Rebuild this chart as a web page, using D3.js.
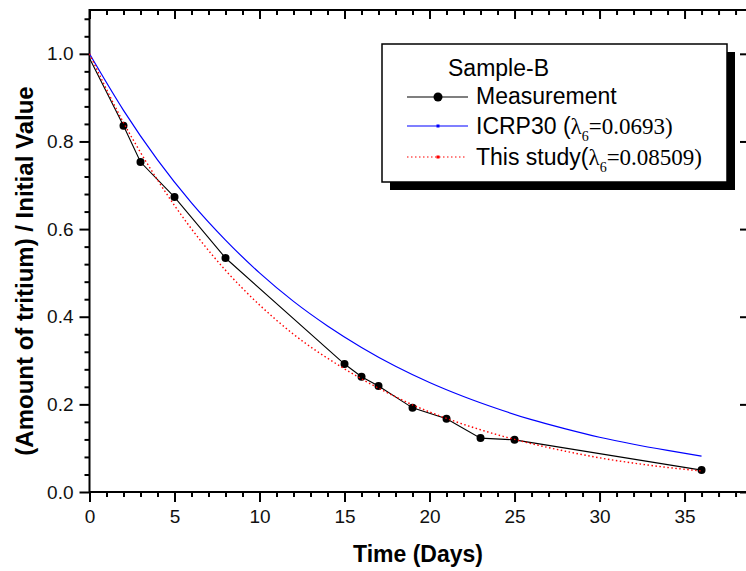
<!DOCTYPE html>
<html>
<head>
<meta charset="utf-8">
<script src="https://cdn.jsdelivr.net/npm/d3@7"></script>
<style>
  body { margin: 0; background: #fff; }
  svg { display: block; }
  text { font-family: Arial, "Liberation Sans", sans-serif; }
</style>
</head>
<body>
<div id="chart"></div>
<script>
// measured points (Sample-B)
var measDays = [0, 2, 3, 5, 8, 15, 16, 17, 19, 21, 23, 25, 36];
var measValues = [0.99, 0.836, 0.753, 0.673, 0.534, 0.292, 0.263, 0.242, 0.192, 0.167, 0.123, 0.119, 0.050];

// ICRP30 curve
var icrpDays = [0, 2, 4, 6, 8, 10, 12, 14, 16, 18, 20, 22, 24, 26, 28, 30, 32, 34, 36];
var icrpValues = [1.0, 0.871, 0.758, 0.660, 0.575, 0.500, 0.435, 0.379, 0.330, 0.287, 0.250, 0.218, 0.190, 0.165, 0.144, 0.125, 0.109, 0.095, 0.082];

// "This study" curve
var fitDays = [0, 2, 3, 5, 8, 10, 12, 15, 16, 17, 19, 21, 23, 25, 28, 30, 32, 34, 36];
var fitValues = [1.0, 0.843, 0.775, 0.654, 0.506, 0.427, 0.360, 0.281, 0.258, 0.237, 0.199, 0.168, 0.142, 0.120, 0.093, 0.078, 0.066, 0.056, 0.048];

var xMajor = [0, 5, 10, 15, 20, 25, 30, 35];
var yMajor = [0.0, 0.2, 0.4, 0.6, 0.8, 1.0];

var width = 746, height = 571;
var plotLeft = 89.5, plotRight = 750, plotTop = 10, plotBottom = 492;

var svg = d3.select("#chart").append("svg")
  .attr("width", width).attr("height", height);

var x = d3.scaleLinear().domain([0, 38.85]).range([plotLeft, plotRight]);
var y = d3.scaleLinear().domain([0, 1.1]).range([plotBottom, plotTop]);

var xMinor = d3.range(0, 39, 1).filter(function (d) { return d % 5 !== 0; });
var yMinor = d3.range(0, 1.1, 0.04).map(function (d) { return +d.toFixed(2); })
  .filter(function (d) { return Math.round(d * 100) % 20 !== 0; });

function styleAxis(g) {
  g.select(".domain").remove();
  g.selectAll("line").attr("stroke", "#000").attr("stroke-width", 2);
  g.selectAll("text").attr("font-size", "19px").attr("fill", "#111")
    .attr("font-family", "Arial, 'Liberation Sans', sans-serif");
}

// bottom axis
svg.append("g").attr("transform", "translate(0," + plotBottom + ")")
  .call(d3.axisBottom(x).tickValues(xMajor).tickSize(10).tickPadding(8).tickFormat(d3.format("d")))
  .call(styleAxis);
svg.append("g").attr("transform", "translate(0," + plotBottom + ")")
  .call(d3.axisBottom(x).tickValues(xMinor).tickSize(5).tickFormat(""))
  .call(styleAxis);

// left axis
svg.append("g").attr("transform", "translate(" + plotLeft + ",0)")
  .call(d3.axisLeft(y).tickValues(yMajor).tickSize(10).tickPadding(6).tickFormat(d3.format(".1f")))
  .call(styleAxis);
svg.append("g").attr("transform", "translate(" + plotLeft + ",0)")
  .call(d3.axisLeft(y).tickValues(yMinor).tickSize(5).tickFormat(""))
  .call(styleAxis);

// top axis, ticks inside
svg.append("g").attr("transform", "translate(0," + plotTop + ")")
  .call(d3.axisTop(x).tickValues(xMajor).tickSize(-9).tickFormat(""))
  .call(styleAxis);
svg.append("g").attr("transform", "translate(0," + plotTop + ")")
  .call(d3.axisTop(x).tickValues(xMinor).tickSize(-5).tickFormat(""))
  .call(styleAxis);

// right axis, ticks inside
svg.append("g").attr("transform", "translate(" + plotRight + ",0)")
  .call(d3.axisRight(y).tickValues(yMajor).tickSize(-10).tickFormat(""))
  .call(styleAxis);

// frame
svg.append("path")
  .attr("d", "M" + plotLeft + "," + (plotTop - 1) + "V" + (plotBottom + 1)
    + "M" + (plotLeft - 1) + "," + plotBottom + "H" + plotRight
    + "M" + (plotLeft - 1) + "," + plotTop + "H" + plotRight
    + "M" + plotRight + "," + plotTop + "V" + plotBottom)
  .attr("stroke", "#000").attr("stroke-width", 2).attr("fill", "none");

// titles
svg.append("text")
  .attr("x", 418).attr("y", 562)
  .attr("text-anchor", "middle")
  .attr("font-size", "23px").attr("font-weight", "bold")
  .text("Time (Days)");

svg.append("text")
  .attr("transform", "translate(33,271) rotate(-90)")
  .attr("text-anchor", "middle")
  .attr("font-size", "24px").attr("font-weight", "bold")
  .text("(Amount of tritium) / Initial Value");

var line = d3.line()
  .x(function (d) { return x(d[0]); })
  .y(function (d) { return y(d[1]); });

var smooth = d3.line()
  .x(function (d) { return x(d[0]); })
  .y(function (d) { return y(d[1]); })
  .curve(d3.curveMonotoneX);

var plot = svg.append("g");

// ICRP30
plot.append("path")
  .datum(d3.zip(icrpDays, icrpValues))
  .attr("d", smooth)
  .attr("fill", "none").attr("stroke", "#0000ff").attr("stroke-width", 1.2);

// measurement
plot.append("path")
  .datum(d3.zip(measDays, measValues))
  .attr("d", line)
  .attr("fill", "none").attr("stroke", "#000").attr("stroke-width", 1.1);

plot.selectAll("circle.meas")
  .data(d3.zip(measDays, measValues).filter(function (d) { return d[0] > 0; }))
  .enter().append("circle")
  .attr("class", "meas")
  .attr("cx", function (d) { return x(d[0]); })
  .attr("cy", function (d) { return y(d[1]); })
  .attr("r", 4)
  .attr("fill", "#000");

// this study
plot.append("path")
  .datum(d3.zip(fitDays, fitValues))
  .attr("d", smooth)
  .attr("fill", "none").attr("stroke", "#ff0000").attr("stroke-width", 1.4)
  .attr("stroke-dasharray", "1.5,2.5");

// legend
var lg = svg.append("g");
lg.append("rect")
  .attr("x", 390).attr("y", 52).attr("width", 345).attr("height", 138)
  .attr("fill", "#000");
lg.append("rect")
  .attr("x", 382).attr("y", 44).attr("width", 345).attr("height", 138)
  .attr("fill", "#fff").attr("stroke", "#000").attr("stroke-width", 1.5);

lg.append("text").attr("x", 448).attr("y", 76).attr("font-size", "23px").text("Sample-B");

lg.append("line").attr("x1", 407).attr("x2", 468).attr("y1", 97).attr("y2", 97)
  .attr("stroke", "#000").attr("stroke-width", 1.1);
lg.append("circle").attr("cx", 438).attr("cy", 97).attr("r", 4.5).attr("fill", "#000");
lg.append("text").attr("x", 476).attr("y", 104).attr("font-size", "23px").text("Measurement");

lg.append("line").attr("x1", 407).attr("x2", 468).attr("y1", 126).attr("y2", 126)
  .attr("stroke", "#0000ff").attr("stroke-width", 1.2);
lg.append("rect").attr("x", 436.5).attr("y", 124.5).attr("width", 3).attr("height", 3).attr("fill", "#0000ff");

function lambdaLabel(yPos, before, after) {
  var t = lg.append("text").attr("x", 476).attr("y", yPos).attr("font-size", "23px");
  t.append("tspan").text(before);
  t.append("tspan").attr("font-family", "'Liberation Serif', 'Times New Roman', serif").text("\u03bb");
  t.append("tspan").attr("font-family", "'Liberation Serif', 'Times New Roman', serif")
    .attr("font-size", "14px").attr("dy", 7).text("6");
  t.append("tspan").attr("font-family", "'Liberation Serif', 'Times New Roman', serif")
    .attr("dy", -7).text(after);
}
lambdaLabel(134, "ICRP30 (", "=0.0693)");

lg.append("line").attr("x1", 407).attr("x2", 467).attr("y1", 157).attr("y2", 157)
  .attr("stroke", "#ff0000").attr("stroke-width", 1.2).attr("stroke-dasharray", "1.5,2.5");
lg.append("rect").attr("x", 436.5).attr("y", 155.5).attr("width", 3).attr("height", 3).attr("fill", "#ff0000");
lambdaLabel(165, "This study(", "=0.08509)");
</script>
</body>
</html>
